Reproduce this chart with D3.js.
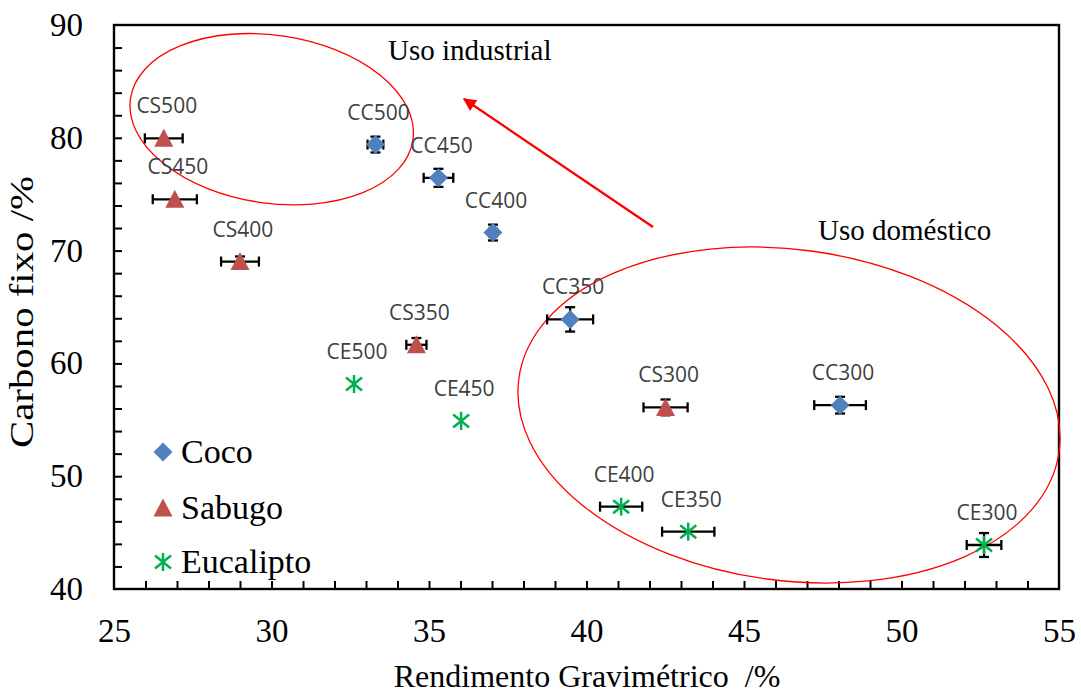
<!DOCTYPE html>
<html>
<head>
<meta charset="utf-8">
<script src="https://cdn.jsdelivr.net/npm/d3@7"></script>
<style>
  html, body { margin: 0; padding: 0; background: #fff; }
  svg { display: block; }
  .serif { font-family: "Liberation Serif", "Times New Roman", serif; fill: #000; }
  .pt-label { font-family: "Open Sans", "Noto Sans", sans-serif; font-size: 21px; fill: #404040; }
</style>
</head>
<body>
<svg id="chart" width="1081" height="693"></svg>
<script>
// Coco (coconut shell) chars
const cocoNames = ["CC300", "CC350", "CC400", "CC450", "CC500"];
const cocoX     = [48.05, 39.48, 37.03, 35.3, 33.3];
const cocoY     = [56.3, 63.9, 71.6, 76.45, 79.4];
const cocoXErr  = [0.82, 0.73, 0.12, 0.47, 0.25];
const cocoYErr  = [0.74, 1.08, 0.7, 0.8, 0.7];

// Sabugo (corn cob) chars
const sabugoNames = ["CS300", "CS350", "CS400", "CS450", "CS500"];
const sabugoX     = [42.51, 34.6, 29.0, 26.93, 26.58];
const sabugoY     = [56.1, 61.65, 69.03, 74.55, 79.95];
const sabugoXErr  = [0.7, 0.32, 0.6, 0.7, 0.6];
const sabugoYErr  = [0.7, 0.6, 0.45, 0.0, 0.0];

// Eucalipto chars
const eucaNames = ["CE300", "CE350", "CE400", "CE450", "CE500"];
const eucaX     = [52.62, 43.23, 41.1, 36.02, 32.62];
const eucaY     = [43.9, 45.08, 47.3, 54.9, 58.17];
const eucaXErr  = [0.55, 0.83, 0.67, 0.0, 0.0];
const eucaYErr  = [1.06, 0.0, 0.0, 0.0, 0.0];

const seriesNames = ["Coco", "Sabugo", "Eucalipto"];

const xDomain = [25, 55];
const yDomain = [40, 90];
const xLabelTicks = [25, 30, 35, 40, 45, 50, 55];
const yLabelTicks = [40, 50, 60, 70, 80, 90];

const xTitle = "Rendimento Gravimétrico \u00a0/%";
const yTitle = "Carbono fixo /%";

const svg = d3.select("#chart");
const plot = { left: 114, right: 1059, top: 25, bottom: 589 };

const x = d3.scaleLinear().domain(xDomain).range([plot.left, plot.right]);
const y = d3.scaleLinear().domain(yDomain).range([plot.bottom, plot.top]);

const colors = { Coco: "#4f81bd", Sabugo: "#c0504d", Eucalipto: "#00b050" };

function build(names, xs, ys, xe, ye, series) {
  return names.map((n, i) => ({ name: n, x: xs[i], y: ys[i], xe: xe[i], ye: ye[i], series }));
}
const data = [
  ...build(cocoNames, cocoX, cocoY, cocoXErr, cocoYErr, "Coco"),
  ...build(sabugoNames, sabugoX, sabugoY, sabugoXErr, sabugoYErr, "Sabugo"),
  ...build(eucaNames, eucaX, eucaY, eucaXErr, eucaYErr, "Eucalipto")
];

// minor ticks, pointing inward
const xTicksAxis = d3.axisBottom(x).tickValues(d3.range(26, 55, 1)).tickSize(-8).tickFormat("");
svg.append("g").attr("transform", `translate(0,${plot.bottom})`).call(xTicksAxis)
  .call(g => g.select(".domain").remove())
  .call(g => g.selectAll("line").attr("stroke", "#000").attr("stroke-width", 2));

const yTicksAxis = d3.axisLeft(y).tickValues(d3.range(42, 90, 2)).tickSize(-8).tickFormat("");
svg.append("g").attr("transform", `translate(${plot.left},0)`).call(yTicksAxis)
  .call(g => g.select(".domain").remove())
  .call(g => g.selectAll("line").attr("stroke", "#000").attr("stroke-width", 2));

// frame
svg.append("rect")
  .attr("x", plot.left).attr("y", plot.top)
  .attr("width", plot.right - plot.left).attr("height", plot.bottom - plot.top)
  .attr("fill", "none").attr("stroke", "#000").attr("stroke-width", 2.4);

// tick labels
const xLabAxis = d3.axisBottom(x).tickValues(xLabelTicks).tickSize(0).tickPadding(30);
svg.append("g").attr("transform", `translate(0,${plot.bottom})`).call(xLabAxis)
  .call(g => g.select(".domain").remove())
  .call(g => g.selectAll("text").attr("class", "serif").attr("font-size", 33).attr("fill", "#000"));

const yLabAxis = d3.axisLeft(y).tickValues(yLabelTicks).tickSize(0).tickPadding(31);
svg.append("g").attr("transform", `translate(${plot.left},0)`).call(yLabAxis)
  .call(g => g.select(".domain").remove())
  .call(g => g.selectAll("text").attr("class", "serif").attr("font-size", 33).attr("fill", "#000"));

// axis titles
svg.append("text").attr("class", "serif").attr("font-size", 32)
  .attr("x", 587).attr("y", 687)
  .attr("text-anchor", "middle").text(xTitle);
svg.append("text").attr("class", "serif").attr("font-size", 34)
  .attr("transform", `translate(33,312) rotate(-90) scale(1.2,1)`)
  .attr("text-anchor", "middle").text(yTitle);

// group ellipses and arrow
const ann = svg.append("g");
ann.append("ellipse")
  .attr("cx", 271.7).attr("cy", 119.2).attr("rx", 142.7).attr("ry", 84)
  .attr("transform", "rotate(8.4,271.7,119.2)")
  .attr("fill", "none").attr("stroke", "#ff0000").attr("stroke-width", 1.3);
ann.append("ellipse")
  .attr("cx", 789).attr("cy", 415).attr("rx", 272.6).attr("ry", 165.5)
  .attr("transform", "rotate(7.7,789,415)")
  .attr("fill", "none").attr("stroke", "#ff0000").attr("stroke-width", 1.3);

svg.append("defs").append("marker")
  .attr("id", "arrowhead").attr("viewBox", "0 0 10 10")
  .attr("refX", 9).attr("refY", 5)
  .attr("markerUnits", "userSpaceOnUse")
  .attr("markerWidth", 16).attr("markerHeight", 13)
  .attr("orient", "auto")
  .append("path").attr("d", "M0,0 L10,5 L0,10 z").attr("fill", "#ff0000");
ann.append("line")
  .attr("x1", 653).attr("y1", 227).attr("x2", 464).attr("y2", 99)
  .attr("stroke", "#ff0000").attr("stroke-width", 2.3)
  .attr("marker-end", "url(#arrowhead)");

svg.append("text").attr("class", "serif").attr("font-size", 29)
  .attr("x", 388).attr("y", 60).text("Uso industrial");
svg.append("text").attr("class", "serif").attr("font-size", 29)
  .attr("x", 818).attr("y", 240).text("Uso doméstico");

// markers
function drawMarker(g, series, cx, cy) {
  const c = colors[series];
  if (series === "Coco") {
    g.append("path").attr("d", `M${cx},${cy - 9.5} L${cx + 9.5},${cy} L${cx},${cy + 9.5} L${cx - 9.5},${cy} Z`)
      .attr("fill", c);
  } else if (series === "Sabugo") {
    g.append("path").attr("d", `M${cx},${cy - 9.5} L${cx + 9.5},${cy + 8.5} L${cx - 9.5},${cy + 8.5} Z`)
      .attr("fill", c);
  } else {
    const sg = g.append("g").attr("stroke", c).attr("stroke-width", 2.5);
    sg.append("line").attr("x1", cx).attr("y1", cy - 9).attr("x2", cx).attr("y2", cy + 9);
    sg.append("line").attr("x1", cx - 8).attr("y1", cy - 6.5).attr("x2", cx + 8).attr("y2", cy + 6.5);
    sg.append("line").attr("x1", cx - 8).attr("y1", cy + 6.5).attr("x2", cx + 8).attr("y2", cy - 6.5);
  }
}

const pts = svg.append("g");
data.forEach(d => {
  const g = pts.append("g");
  const cx = x(d.x), cy = y(d.y);
  const eb = g.append("g").attr("stroke", "#000").attr("stroke-width", 2.3);
  if (d.xe > 0) {
    const x0 = x(d.x - d.xe), x1 = x(d.x + d.xe);
    eb.append("line").attr("x1", x0).attr("y1", cy).attr("x2", x1).attr("y2", cy);
    eb.append("line").attr("x1", x0).attr("y1", cy - 5).attr("x2", x0).attr("y2", cy + 5);
    eb.append("line").attr("x1", x1).attr("y1", cy - 5).attr("x2", x1).attr("y2", cy + 5);
  }
  if (d.ye > 0) {
    const y0 = y(d.y - d.ye), y1 = y(d.y + d.ye);
    eb.append("line").attr("x1", cx).attr("y1", y0).attr("x2", cx).attr("y2", y1);
    eb.append("line").attr("x1", cx - 5).attr("y1", y0).attr("x2", cx + 5).attr("y2", y0);
    eb.append("line").attr("x1", cx - 5).attr("y1", y1).attr("x2", cx + 5).attr("y2", y1);
  }
  drawMarker(g, d.series, cx, cy);
  g.append("text").attr("class", "pt-label")
    .attr("x", cx + 3).attr("y", cy - 25).attr("text-anchor", "middle").text(d.name);
});

// legend
const legend = svg.append("g");
const legendY = [452, 508, 562];
seriesNames.forEach((s, i) => {
  const g = legend.append("g");
  drawMarker(g, s, 163, legendY[i]);
  g.append("text").attr("class", "serif").attr("font-size", 34)
    .attr("x", 181).attr("y", legendY[i] + 11).text(s);
});
</script>
</body>
</html>
